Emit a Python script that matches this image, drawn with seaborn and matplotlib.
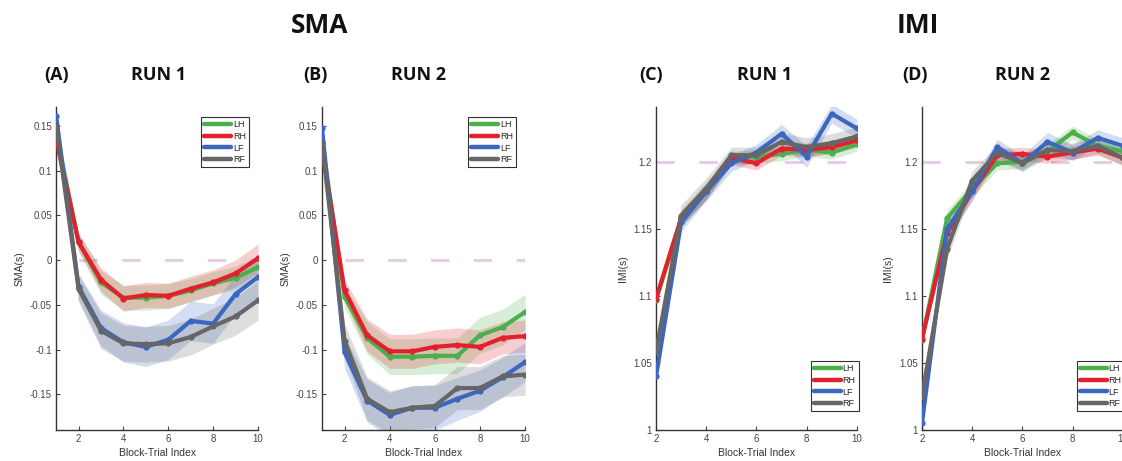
import numpy as np
import pandas as pd
import matplotlib
matplotlib.use("Agg")
import matplotlib.pyplot as plt
from matplotlib.lines import Line2D
from matplotlib.ticker import FuncFormatter
import seaborn as sns

sns.set_style("ticks")
plt.rcParams["font.family"] = ["Liberation Sans", "DejaVu Sans"]
plt.rcParams["axes.unicode_minus"] = False

series = ["LH", "RH", "LF", "RF"]
colors = {"LH": "#4bb04b", "RH": "#e3202d", "LF": "#3c66c0", "RF": "#666666"}

trials_sma = [1, 2, 3, 4, 5, 6, 7, 8, 9, 10]
trials_imi = [2, 3, 4, 5, 6, 7, 8, 9, 10]

# (A) SMA run 1
sma_run1 = {
    "LH": [0.142, 0.020, -0.025, -0.042, -0.042, -0.040, -0.034, -0.026, -0.020, -0.008],
    "RH": [0.135, 0.020, -0.022, -0.043, -0.039, -0.040, -0.032, -0.025, -0.015, 0.002],
    "LF": [0.161, -0.030, -0.076, -0.092, -0.097, -0.089, -0.068, -0.071, -0.038, -0.019],
    "RF": [0.151, -0.032, -0.079, -0.093, -0.094, -0.093, -0.086, -0.074, -0.063, -0.045],
}
sma_run1_err = {
    "LH": [0.005, 0.010, 0.013, 0.014, 0.014, 0.014, 0.013, 0.013, 0.013, 0.013],
    "RH": [0.005, 0.010, 0.013, 0.014, 0.014, 0.014, 0.014, 0.014, 0.015, 0.016],
    "LF": [0.005, 0.015, 0.020, 0.022, 0.022, 0.022, 0.022, 0.022, 0.022, 0.022],
    "RF": [0.005, 0.015, 0.020, 0.020, 0.020, 0.020, 0.020, 0.020, 0.021, 0.022],
}

# (B) SMA run 2
sma_run2 = {
    "LH": [0.132, -0.041, -0.087, -0.108, -0.108, -0.107, -0.107, -0.084, -0.075, -0.058],
    "RH": [0.124, -0.034, -0.084, -0.102, -0.102, -0.097, -0.095, -0.097, -0.087, -0.085],
    "LF": [0.147, -0.103, -0.157, -0.173, -0.165, -0.165, -0.155, -0.146, -0.131, -0.114],
    "RF": [0.131, -0.090, -0.155, -0.170, -0.165, -0.163, -0.143, -0.143, -0.130, -0.128],
}
sma_run2_err = {
    "LH": [0.005, 0.012, 0.018, 0.020, 0.020, 0.020, 0.020, 0.020, 0.020, 0.020],
    "RH": [0.005, 0.012, 0.018, 0.019, 0.019, 0.019, 0.019, 0.019, 0.018, 0.018],
    "LF": [0.005, 0.018, 0.024, 0.025, 0.025, 0.025, 0.024, 0.023, 0.022, 0.022],
    "RF": [0.005, 0.018, 0.024, 0.024, 0.024, 0.024, 0.024, 0.024, 0.023, 0.023],
}

# (C) IMI run 1
imi_run1 = {
    "LH": [1.097, 1.158, 1.178, 1.203, 1.204, 1.206, 1.209, 1.207, 1.213],
    "RH": [1.098, 1.158, 1.178, 1.203, 1.199, 1.210, 1.209, 1.211, 1.216],
    "LF": [1.040, 1.155, 1.178, 1.199, 1.207, 1.221, 1.204, 1.236, 1.225],
    "RF": [1.059, 1.160, 1.180, 1.205, 1.205, 1.215, 1.211, 1.214, 1.219],
}
imi_run1_err = {
    "LH": [0.003, 0.006, 0.006, 0.005, 0.005, 0.005, 0.005, 0.005, 0.005],
    "RH": [0.003, 0.006, 0.006, 0.005, 0.005, 0.005, 0.005, 0.005, 0.005],
    "LF": [0.003, 0.007, 0.007, 0.006, 0.006, 0.007, 0.008, 0.007, 0.007],
    "RF": [0.003, 0.008, 0.008, 0.006, 0.006, 0.007, 0.007, 0.007, 0.007],
}

# (D) IMI run 2
imi_run2 = {
    "LH": [1.067, 1.158, 1.180, 1.199, 1.200, 1.208, 1.222, 1.212, 1.208],
    "RH": [1.068, 1.147, 1.178, 1.205, 1.206, 1.204, 1.207, 1.210, 1.203],
    "LF": [1.005, 1.150, 1.178, 1.211, 1.199, 1.215, 1.207, 1.218, 1.212],
    "RF": [1.025, 1.135, 1.186, 1.207, 1.199, 1.209, 1.208, 1.212, 1.203],
}
imi_run2_err = {
    "LH": [0.003, 0.006, 0.006, 0.005, 0.005, 0.005, 0.005, 0.005, 0.005],
    "RH": [0.003, 0.006, 0.006, 0.005, 0.005, 0.005, 0.005, 0.005, 0.005],
    "LF": [0.003, 0.007, 0.007, 0.006, 0.006, 0.007, 0.006, 0.006, 0.006],
    "RF": [0.003, 0.007, 0.007, 0.006, 0.006, 0.006, 0.006, 0.006, 0.006],
}

fig = plt.figure(figsize=(11.22, 4.61), dpi=100)
positions = [
    [0.050, 0.067, 0.180, 0.701],
    [0.287, 0.067, 0.181, 0.701],
    [0.5847, 0.067, 0.179, 0.701],
    [0.8217, 0.067, 0.179, 0.701],
]
panels = [
    (trials_sma, sma_run1, sma_run1_err, "SMA(s)", 0.0, (1, 10), (-0.19, 0.171), "upper right"),
    (trials_sma, sma_run2, sma_run2_err, "SMA(s)", 0.0, (1, 10), (-0.19, 0.171), "upper right"),
    (trials_imi, imi_run1, imi_run1_err, "IMI(s)", 1.2, (2, 10), (1.0, 1.241), "lower right"),
    (trials_imi, imi_run2, imi_run2_err, "IMI(s)", 1.2, (2, 10), (1.0, 1.241), "lower right"),
]

fmt = FuncFormatter(lambda v, p: "%g" % round(v, 4))

for pos, (xs, vals, errs, ylab, ref, xlim, ylim, loc) in zip(positions, panels):
    ax = fig.add_axes(pos)
    ax.plot([2, 10], [ref, ref], color="#e2cfe3", lw=2.2,
            dashes=(6, 8), zorder=1)
    rows = []
    for s in series:
        v = np.array(vals[s])
        e = np.array(errs[s])
        ax.fill_between(xs, v - e, v + e, color=colors[s], alpha=0.22,
                        lw=0, zorder=2)
        for x, y in zip(xs, vals[s]):
            rows.append({"trial": x, "value": y, "limb": s})
    df = pd.DataFrame(rows)
    sns.lineplot(data=df, x="trial", y="value", hue="limb", hue_order=series,
                 palette=colors, lw=3, marker="o", markersize=4.5,
                 markeredgewidth=0, legend=False, ax=ax, zorder=3)
    ax.set_xlim(*xlim)
    ax.set_ylim(*ylim)
    ax.set_xticks([2, 4, 6, 8, 10])
    if ylab == "SMA(s)":
        ax.set_yticks([-0.15, -0.1, -0.05, 0, 0.05, 0.1, 0.15])
    else:
        ax.set_yticks([1, 1.05, 1.1, 1.15, 1.2])
    ax.yaxis.set_major_formatter(fmt)
    ax.set_xlabel("Block-Trial Index", fontsize=7.5, color="#333333", labelpad=3)
    ax.set_ylabel(ylab, fontsize=7.5, color="#333333", labelpad=4)
    ax.tick_params(direction="in", length=3, width=0.8, labelsize=7,
                   colors="#444444", pad=3)
    sns.despine(ax=ax)
    for sp in ["left", "bottom"]:
        ax.spines[sp].set_color("#333333")
        ax.spines[sp].set_linewidth(1.0)
    handles = [Line2D([], [], color=colors[s], lw=3.2) for s in series]
    if loc == "upper right":
        anchor = (0.955, 0.969)
    else:
        anchor = (1.01, 0.058)
    leg = ax.legend(handles, series, loc=loc, bbox_to_anchor=anchor,
                    borderaxespad=0, fontsize=6.5, handlelength=3.0,
                    handletextpad=0.2, labelspacing=0.3, borderpad=0.35,
                    fancybox=False, framealpha=1)
    leg.get_frame().set_edgecolor("#333333")
    leg.get_frame().set_linewidth(0.8)

hfont = dict(family=["Open Sans", "DejaVu Sans"], weight="bold", color="#111111",
             ha="center", va="center")
fig.text(320 / 1122, 0.945, "SMA", fontsize=19, **hfont)
fig.text(918 / 1122, 0.945, "IMI", fontsize=19, **hfont)
for lab, x in [("(A)", 57), ("(B)", 315), ("(C)", 651), ("(D)", 915)]:
    fig.text(x / 1122, 0.837, lab, fontsize=13, **hfont)
for lab, x in [("RUN 1", 159), ("RUN 2", 419), ("RUN 1", 765), ("RUN 2", 1023)]:
    fig.text(x / 1122, 0.837, lab, fontsize=13, **hfont)

fig.savefig("out.png", dpi=100)
